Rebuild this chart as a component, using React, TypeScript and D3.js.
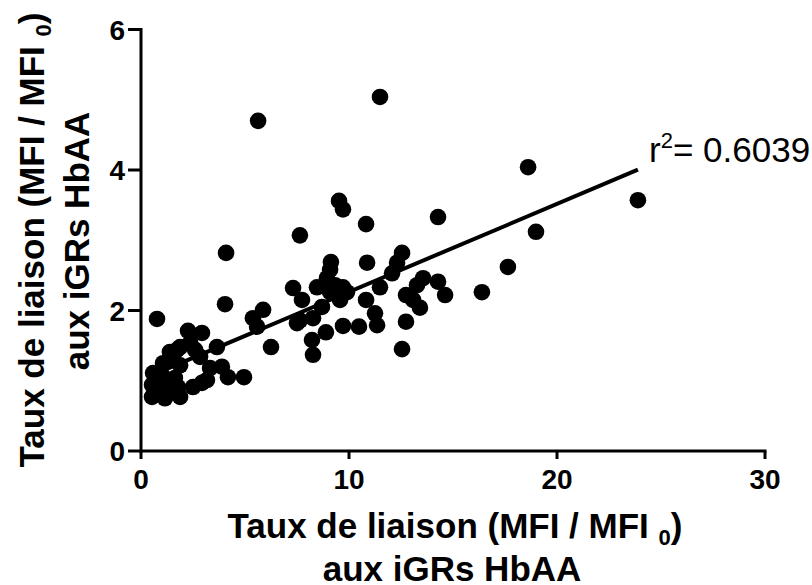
import React from "react";
import * as d3 from "d3";

const xValues: number[] = [
  0.77,
  2.26, 2.93, 2.36, 1.88, 3.65, 1.73, 2.84, 1.54, 1.06, 1.88, 3.32, 3.89, 0.58, 1.01, 1.63, 4.18, 3.17, 4.95,
  0.53, 1.15, 1.78, 2.5, 2.93, 0.53, 1.15, 1.88, 0.82, 1.39, 2.6, 1.39,
  4.04, 4.09, 5.63, 5.87, 5.38, 5.58, 6.25,
  7.64, 7.31, 7.74, 7.64, 8.27, 7.5, 8.89, 8.22, 8.27, 8.46, 8.94, 8.7, 9.13, 9.09, 9.33, 9.71, 9.57, 9.9, 9.09, 9.71, 9.52, 9.71,
  10.82, 10.87, 10.82, 10.48, 11.49, 11.25, 11.35, 11.49, 12.55, 12.31, 12.07, 12.74, 12.74, 12.55, 13.56, 13.27, 13.41, 13.08, 14.28, 14.28, 14.62,
  16.39, 17.64, 18.61, 18.99, 23.89,
];
const yValues: number[] = [
  1.88,
  1.71, 1.68, 1.54, 1.48, 1.48, 1.44, 1.34, 1.34, 1.25, 1.22, 1.18, 1.2, 1.11, 1.08, 1.04, 1.05, 1.01, 1.05,
  0.94, 0.94, 0.91, 0.91, 0.97, 0.77, 0.75, 0.77, 0.87, 0.84, 1.44, 1.41,
  2.09, 2.82, 4.7, 2.01, 1.89, 1.77, 1.48,
  3.07, 2.32, 2.15, 1.86, 1.89, 1.82, 1.69, 1.58, 1.37, 2.33, 2.46, 2.05, 2.69, 2.58, 2.36, 2.33, 2.15, 2.26, 2.26, 1.78, 3.56, 3.44,
  3.23, 2.68, 2.15, 1.77, 2.33, 1.96, 1.79, 5.04, 2.82, 2.68, 2.53, 2.22, 1.84, 1.45, 2.46, 2.36, 2.04, 2.15, 3.33, 2.41, 2.22,
  2.26, 2.62, 4.04, 3.12, 3.57,
];

const xTicks: number[] = [0, 10, 20, 30];
const yTicks: number[] = [0, 2, 4, 6];
const fitSlope = 0.1252;
const fitIntercept = 1.013;
const r2Label = "0.6039";

const FONT = "'Liberation Sans', Arial, sans-serif";

export default function App() {
  const x = d3.scaleLinear().domain([0, 30]).range([141, 765]);
  const y = d3.scaleLinear().domain([0, 6]).range([451, 29.5]);
  const pts = xValues.map((v, i) => [v, yValues[i]] as [number, number]);
  const xMin = d3.min(xValues) as number;
  const xMax = d3.max(xValues) as number;
  const line = d3
    .line<number>()
    .x((d) => x(d))
    .y((d) => y(fitIntercept + fitSlope * d));

  return (
    <svg
      width={812}
      height={585}
      style={{ position: "absolute", left: 0, top: 0, background: "#fff" }}
      fontFamily={FONT}
    >
      <rect width={812} height={585} fill="#fff" />
      {/* axes */}
      <line x1={x(0)} x2={x(30)} y1={y(0)} y2={y(0)} stroke="#000" strokeWidth={3} strokeLinecap="square" />
      <line x1={x(0)} x2={x(0)} y1={y(0)} y2={y(6)} stroke="#000" strokeWidth={3} strokeLinecap="square" />
      {xTicks.map((t) => (
        <g key={"xt" + t}>
          <line x1={x(t)} x2={x(t)} y1={y(0)} y2={y(0) + 8} stroke="#000" strokeWidth={3} />
          <text x={x(t)} y={489} textAnchor="middle" fontSize={28} fontWeight="bold">
            {t}
          </text>
        </g>
      ))}
      {yTicks.map((t) => (
        <g key={"yt" + t}>
          <line x1={x(0) - 13} x2={x(0)} y1={y(t)} y2={y(t)} stroke="#000" strokeWidth={3} />
          <text x={125} y={y(t) + 10} textAnchor="end" fontSize={28} fontWeight="bold">
            {t}
          </text>
        </g>
      ))}
      {/* points */}
      {pts.map((p, i) => (
        <circle key={i} cx={x(p[0])} cy={y(p[1])} r={8.3} fill="#000" />
      ))}
      {/* regression line */}
      <path d={line([xMin, xMax]) || ""} stroke="#000" strokeWidth={4} fill="none" />
      <text x={649} y={162} fontSize={35}>
        r<tspan fontSize={22} dy={-14}>2</tspan>
        <tspan dy={14}>= {r2Label}</tspan>
      </text>
      {/* x title */}
      <text x={455} y={538} textAnchor="middle" fontSize={35} fontWeight="bold">
        Taux de liaison (MFI / MFI <tspan fontSize={22} dy={7}>0</tspan>
        <tspan dy={-7}>)</tspan>
      </text>
      <text x={452} y={581} textAnchor="middle" fontSize={35} fontWeight="bold">
        aux iGRs HbAA
      </text>
      {/* y title */}
      <text transform="translate(44,240) rotate(-90)" textAnchor="middle" fontSize={35} fontWeight="bold">
        Taux de liaison (MFI / MFI <tspan fontSize={22} dy={7}>0</tspan>
        <tspan dy={-7}>)</tspan>
      </text>
      <text transform="translate(89,241) rotate(-90)" textAnchor="middle" fontSize={35} fontWeight="bold">
        aux iGRs HbAA
      </text>
    </svg>
  );
}
